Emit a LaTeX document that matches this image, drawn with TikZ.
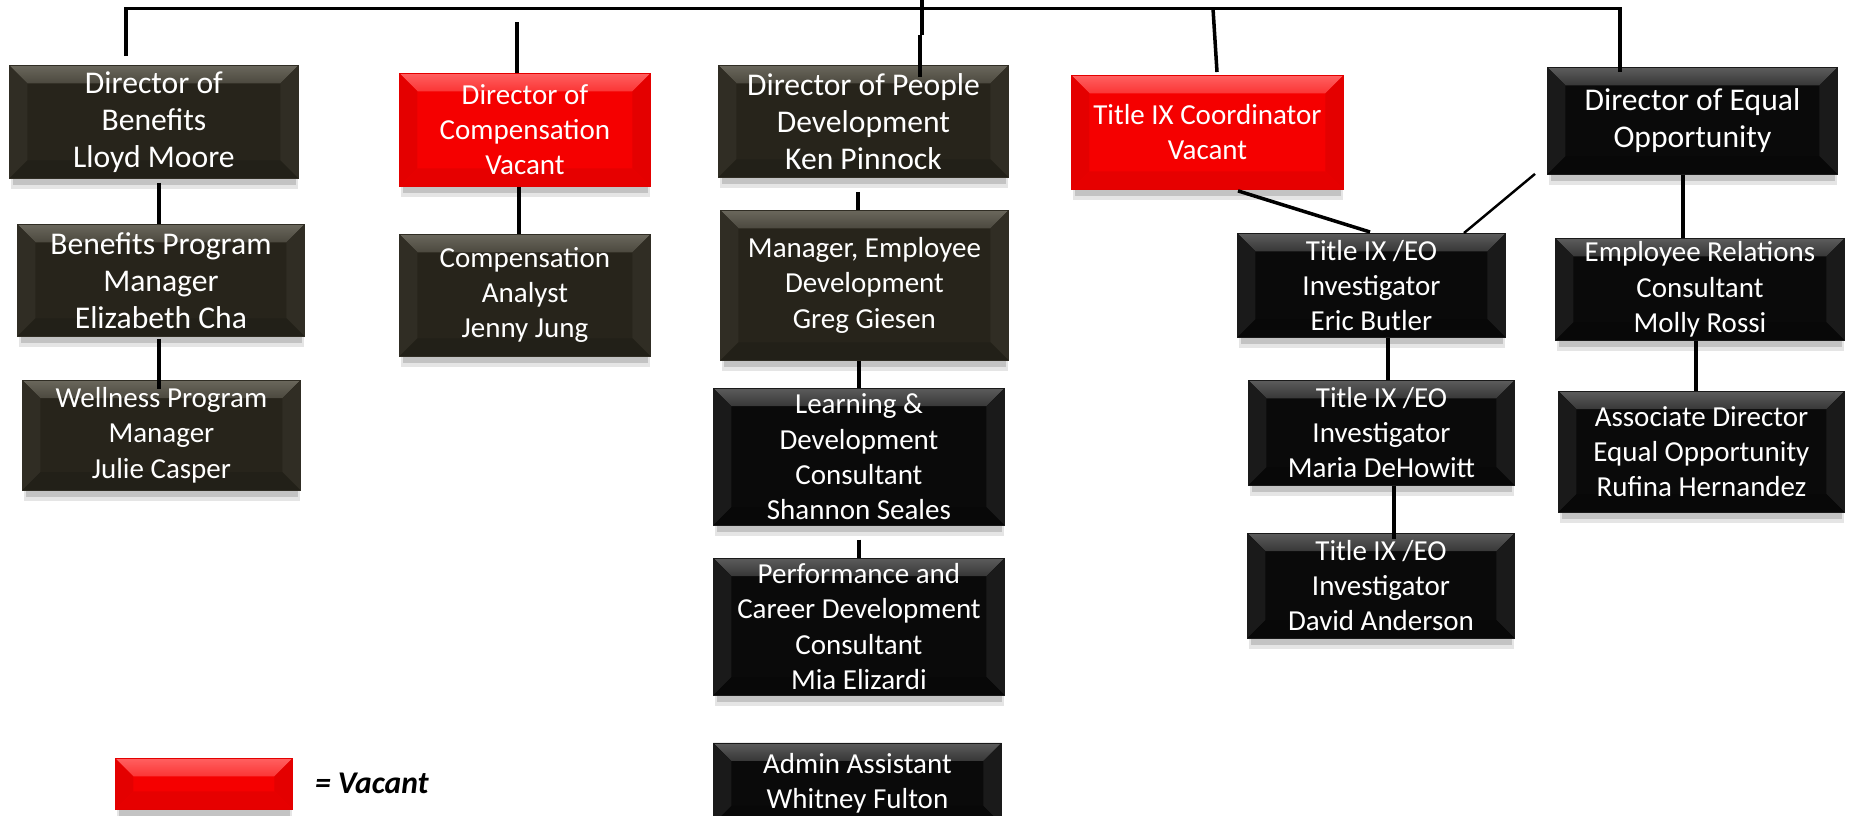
\documentclass[tikz,border=0pt]{standalone}
\usepackage{fontspec}
\setmainfont{Carlito}
\usepackage{tikz}
\usetikzlibrary{backgrounds}
\usetikzlibrary{positioning, calc}
\usepackage{xcolor}

\definecolor{brownbase}{HTML}{27241B}
\definecolor{browntop}{HTML}{6A675C}
\definecolor{brownside}{HTML}{302D24}
\definecolor{brownbot}{HTML}{222018}
\definecolor{blackbase}{HTML}{0A0A0A}
\definecolor{blacktop}{HTML}{5C5C5C}
\definecolor{blackside}{HTML}{1A1A1A}
\definecolor{blackbot}{HTML}{080808}
\definecolor{redbase}{HTML}{F50000}
\definecolor{redtop}{HTML}{FF6060}
\definecolor{redside}{HTML}{E40000}
\definecolor{redbot}{HTML}{E60000}

\newcommand\bev{0.36cm}

\tikzset{orgbox/.style={rectangle, anchor=north west, inner sep=0pt, text=white, align=center}}
\tikzset{boxsize/.style 2 args={minimum width=#1*0.02cm, minimum height=#2*0.02cm}}
\tikzset{big/.style={font=\fontsize{18}{21}\selectfont}}
\tikzset{small/.style={font=\fontsize{16.5}{20}\selectfont}}
\tikzset{bevel/.style n args={4}{fill=#1, draw=#3, line width=.5pt, path picture={
      \coordinate (a) at (path picture bounding box.north west);
      \coordinate (b) at (path picture bounding box.north east);
      \coordinate (c) at (path picture bounding box.south east);
      \coordinate (d) at (path picture bounding box.south west);
      \shade[top color=#2, bottom color=#1!45!#2] (a) -- (b) -- ($(b)+(-\bev,-\bev)$) -- ($(a)+(\bev,-\bev)$) -- cycle;
      \fill[#3] (a) -- ($(a)+(\bev,-\bev)$) -- ($(d)+(\bev,\bev)$) -- (d) -- cycle;
      \fill[#3] (b) -- ($(b)+(-\bev,-\bev)$) -- ($(c)+(-\bev,\bev)$) -- (c) -- cycle;
      \fill[#4] (d) -- ($(d)+(\bev,\bev)$) -- ($(c)+(-\bev,\bev)$) -- (c) -- cycle;
    }}}
\tikzset{brownbox/.style={orgbox, bevel={brownbase}{browntop}{brownside}{brownbot}}}
\tikzset{blackbox/.style={orgbox, bevel={blackbase}{blacktop}{blackside}{blackbot}}}
\tikzset{redbox/.style={orgbox, bevel={redbase}{redtop}{redside}{redbot}}}
\tikzset{link/.style={draw=black, line width=2pt}}

\begin{document}
\begin{tikzpicture}[x=0.02cm, y=-0.02cm]
  \useasboundingbox (0,0) rectangle (1849,815);

  % benefits
  \node[brownbox, big, boxsize={289}{113}] (ben) at (9,65) {Director of\\Benefits\\Lloyd Moore};
  \node[brownbox, big, boxsize={287}{112}] (bpm) at ($(ben.south west)+(8,45)$) {Benefits Program\\Manager\\Elizabeth Cha};
  \node[brownbox, small, boxsize={278}{110}] (well) at ($(bpm.south west)+(5,43)$) {Wellness Program\\Manager\\Julie Casper};

  % compensation
  \node[redbox, small, boxsize={251}{113}] (comp) at (399,73) {Director of\\Compensation\\Vacant};
  \node[brownbox, small, boxsize={251}{122}] (ana) at ($(comp.south west)+(0,47)$) {Compensation\\Analyst\\Jenny Jung};

  % people development
  \node[brownbox, big, boxsize={290}{112}] (ppl) at (718,65) {Director of People\\Development\\Ken Pinnock};
  \node[brownbox, small, boxsize={288}{150}] (mgr) at ($(ppl.south west)+(2,32)$) {Manager, Employee\\Development\\Greg Giesen};
  \node[blackbox, small, boxsize={291}{137}] (lnd) at ($(mgr.south west)+(-7,27)$) {Learning \&\\Development\\Consultant\\Shannon Seales};
  \node[blackbox, small, boxsize={291}{137}] (perf) at ($(lnd.south west)+(0,32)$) {Performance and\\Career Development\\Consultant\\Mia Elizardi};
  \node[blackbox, small, boxsize={288}{81}] (adm) at ($(perf.south west)+(0,47)$) {Admin Assistant\\Whitney Fulton};

  % title ix
  \node[redbox, small, boxsize={272}{114}] (tix) at (1071,75) {Title IX Coordinator\\Vacant};
  \node[blackbox, small, boxsize={268}{104}] (eric) at (1237,233) {Title IX /EO\\Investigator\\Eric Butler};
  \node[blackbox, small, boxsize={266}{105}] (maria) at ($(eric.south west)+(11,42)$) {Title IX /EO\\Investigator\\Maria DeHowitt};
  \node[blackbox, small, boxsize={267}{105}] (david) at ($(maria.south west)+(-1,47)$) {Title IX /EO\\Investigator\\David Anderson};

  % equal opportunity
  \node[blackbox, big, boxsize={290}{107}] (deo) at (1547,67) {Director of Equal\\Opportunity};
  \node[blackbox, small, boxsize={289}{102}] (erc) at ($(deo.south west)+(8,63)$) {Employee Relations\\Consultant\\Molly Rossi};
  \node[blackbox, small, boxsize={286}{121}] (assoc) at ($(erc.south west)+(3,50)$) {Associate Director\\Equal Opportunity\\Rufina Hernandez};

  % key
  \node[redbox, boxsize={177}{51}] (key) at (115,758) {};
  \node[anchor=west, font=\fontsize{18}{21}\selectfont\bfseries\itshape] (keytext) at ($(key.east)+(16,-1)$) {= Vacant};

  \begin{scope}[on background layer]
    \foreach \n in {ben,bpm,well,comp,ana,ppl,mgr,lnd,perf,adm,tix,eric,maria,david,deo,erc,assoc,key} {
      \fill[black, opacity=.10] ($(\n.south west)+(2,-2)$) rectangle ($(\n.south east)+(-1,10)$);
      \fill[black, opacity=.15] ($(\n.south west)+(4,-2)$) rectangle ($(\n.south east)+(-3,6)$);
    }
  \end{scope}

  % reporting lines
  \coordinate (root) at (922,-2);
  \draw[link] (root) -- ++(0,37);
  \draw[link] ($(root)+(-2,37)$) -- ++(0,42);
  \draw[link] ($(ben.north west)+(117,-9)$) |- ($(deo.north west)+(73,-58.5)$) -- ($(deo.north west)+(73,5)$);
  \draw[link] ($(comp.north west)+(118,-51)$) -- ($(comp.north west)+(118,0)$);
  \draw[link] ($(tix.north west)+(142,-66.5)$) -- ($(tix.north west)+(146,-3)$);

  \draw[link] ($(ben.south west)+(150,4)$) -- ($(bpm.north west)+(142,0)$);
  \draw[link] ($(bpm.south west)+(142,2)$) -- ($(well.north west)+(137,9)$);
  \draw[link] ($(comp.south west)+(120,0)$) -- ($(ana.north west)+(120,0)$);

  \draw[link] ($(ppl.south west)+(140,14)$) -- ($(mgr.north west)+(138,0)$);
  \draw[link] ($(mgr.south west)+(139,0)$) -- ($(lnd.north west)+(146,0)$);
  \draw[link] ($(lnd.south west)+(146,14)$) -- ($(perf.north west)+(146,0)$);

  \draw[link] ($(tix.south west)+(167,1)$) -- ($(eric.north west)+(133,-1)$);
  \draw[link, line width=1.4pt] ($(deo.south west)+(-12,-1)$) -- ($(eric.north west)+(227,0)$);
  \draw[link] ($(eric.south west)+(151,0)$) -- ($(maria.north west)+(140,0)$);
  \draw[link] ($(maria.south west)+(146,0)$) -- ($(david.north west)+(147,6)$);

  \draw[link] ($(deo.south west)+(136,0)$) -- ($(erc.north west)+(128,0)$);
  \draw[link] ($(erc.south west)+(141,0)$) -- ($(assoc.north west)+(138,0)$);
\end{tikzpicture}
\end{document}
